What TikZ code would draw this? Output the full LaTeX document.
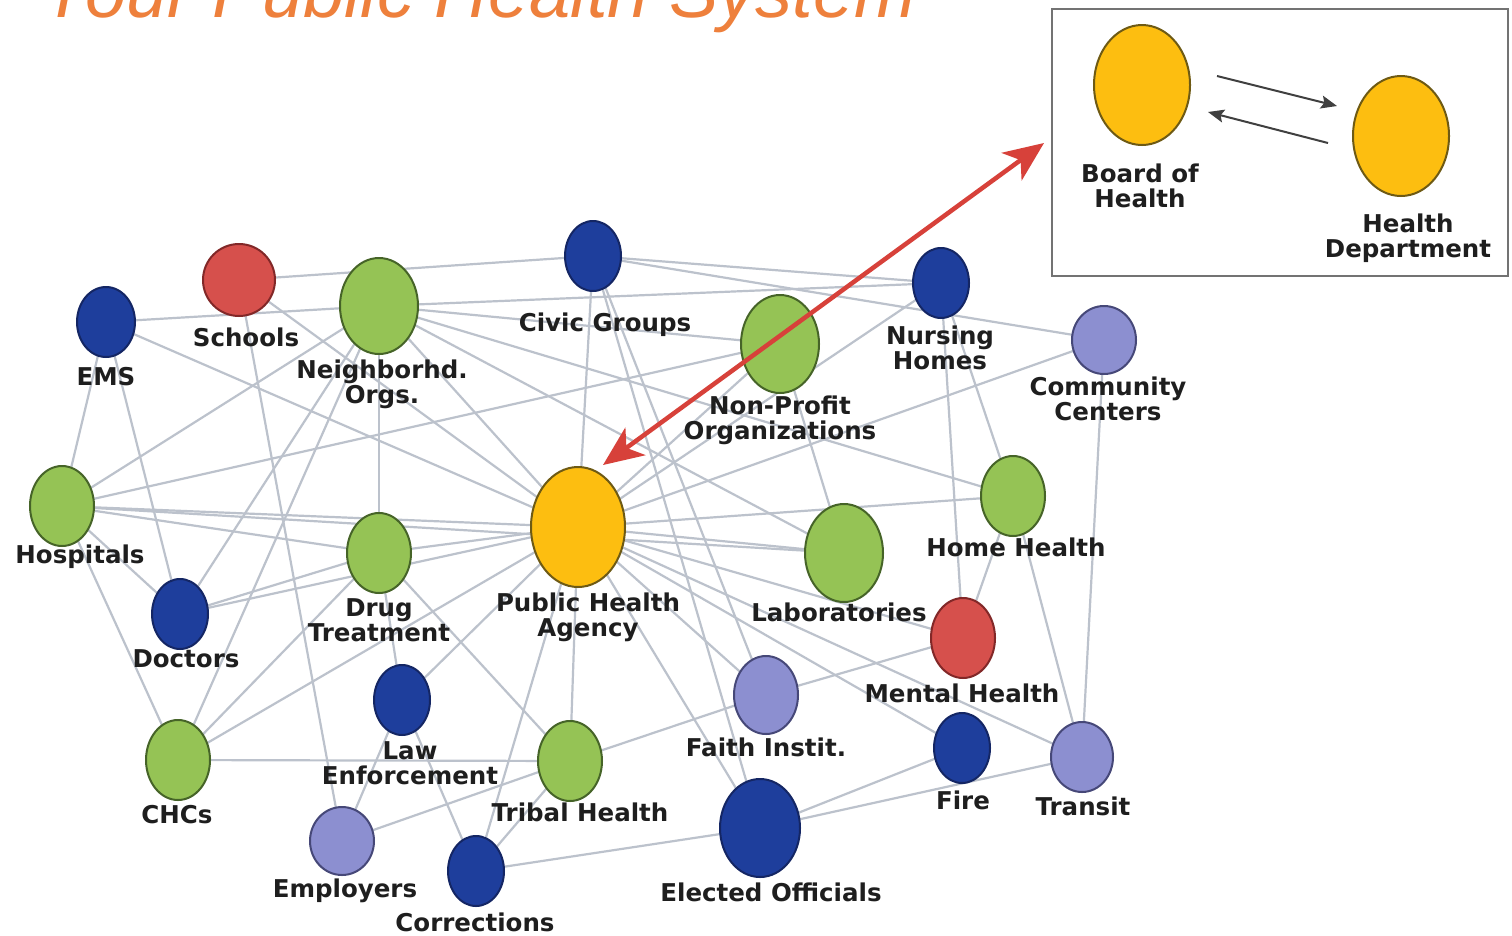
\documentclass[tikz,border=0pt]{standalone}
\usepackage{fontspec}
\setsansfont{DejaVu Sans}
\newfontfamily\titlefont{Liberation Sans}
\usetikzlibrary{arrows.meta,shapes.geometric}
\definecolor{bluefill}{RGB}{30,62,156}
\definecolor{blueline}{RGB}{20,38,100}
\definecolor{greenfill}{RGB}{149,195,85}
\definecolor{greenline}{RGB}{70,100,40}
\definecolor{redfill}{RGB}{214,80,76}
\definecolor{redline}{RGB}{130,40,40}
\definecolor{yellowfill}{RGB}{253,190,16}
\definecolor{yellowline}{RGB}{110,90,20}
\definecolor{lavfill}{RGB}{140,143,208}
\definecolor{lavline}{RGB}{70,72,120}
\definecolor{edgegray}{RGB}{188,194,204}
\definecolor{titleorange}{RGB}{238,128,60}
\definecolor{arrowred}{RGB}{215,65,58}
\definecolor{labeltext}{RGB}{30,30,30}
\tikzset{
  org/.style={ellipse, draw, line width=2pt, inner sep=0pt},
  bl/.style={org, fill=bluefill, draw=blueline},
  gr/.style={org, fill=greenfill, draw=greenline},
  rd/.style={org, fill=redfill, draw=redline},
  yl/.style={org, fill=yellowfill, draw=yellowline},
  lv/.style={org, fill=lavfill, draw=lavline},
  sz/.style 2 args={minimum width=#1pt, minimum height=#2pt},
  lbl/.style={font=\sffamily\bfseries\fontsize{24.5}{25}\selectfont, text=labeltext, align=center, inner sep=0pt},
  link/.style={draw=edgegray, line width=2.2pt},
  boxarrow/.style={draw=black!75, line width=2pt, -{Stealth[length=16pt,width=13pt,inset=3pt]}},
  redarrow/.style={draw=arrowred, line width=4.5pt, {Stealth[length=40pt,width=34pt,inset=11pt]}-{Stealth[length=40pt,width=34pt,inset=11pt]}},
}
\begin{document}
\begin{tikzpicture}[x=1pt,y=-1pt]
\path[use as bounding box] (0,0) rectangle (1512,935);
\fill[white] (0,0) rectangle (1512,935);
\clip (0,0) rectangle (1512,935);

% title (cut off at the top, as in the reference)
\node[anchor=base west, inner sep=0pt, text=titleorange, font=\titlefont\itshape\fontsize{74}{74}\selectfont] (title) at (40,17) {Your Public Health System};

% node centres
\path
 (106,322) coordinate (ems)
 (239,280) coordinate (sch)
 (379,306) coordinate (nbh)
 (593,256) coordinate (civ)
 (780,344) coordinate (npo)
 (941,283) coordinate (nur)
 (1104,340) coordinate (cc)
 (62,506) coordinate (hos)
 (379,553) coordinate (drug)
 (578,527) coordinate (pha)
 (844,553) coordinate (lab)
 (1013,496) coordinate (hh)
 (180,614) coordinate (doc)
 (963,638) coordinate (mh)
 (402,700) coordinate (law)
 (766,695) coordinate (faith)
 (178,760) coordinate (chc)
 (570,761) coordinate (trib)
 (962,748) coordinate (fire)
 (1082,757) coordinate (tran)
 (342,841) coordinate (emp)
 (476,871) coordinate (corr)
 (760,828) coordinate (elec);

% links
\foreach \a/\b in {sch/civ, ems/nbh, ems/pha, ems/hos, ems/doc, sch/emp, sch/pha,
  nbh/hos, nbh/doc, nbh/chc, nbh/drug, nbh/nur, nbh/npo, nbh/pha, nbh/lab, nbh/hh,
  civ/cc, civ/nur, civ/pha, civ/faith, civ/elec,
  hos/npo, hos/pha, hos/lab, hos/drug, hos/chc, hos/doc,
  pha/cc, pha/nur, pha/npo, npo/lab, pha/lab, pha/hh, pha/mh, pha/fire, pha/tran,
  pha/faith, pha/elec, pha/trib, pha/corr, pha/law, pha/chc,
  chc/drug, chc/trib, doc/drug, doc/pha, drug/trib, drug/law, drug/pha,
  law/emp, law/corr, emp/trib, corr/trib, corr/elec, elec/fire, elec/tran,
  trib/faith, faith/mh, mh/hh, mh/nur, nur/hh, hh/tran, cc/tran}
  \draw[link] (\a) -- (\b);

% ellipses
\node[bl, sz={58}{70}] (nEMS) at (ems) {};
\node[rd, sz={72}{72}] (nSch) at (sch) {};
\node[gr, sz={78}{96}] (nNbh) at (nbh) {};
\node[bl, sz={56}{70}] (nCiv) at (civ) {};
\node[gr, sz={78}{98}] (nNpo) at (npo) {};
\node[bl, sz={56}{70}] (nNur) at (nur) {};
\node[lv, sz={64}{68}] (nCC) at (cc) {};
\node[gr, sz={64}{80}] (nHos) at (hos) {};
\node[gr, sz={64}{80}] (nDrug) at (drug) {};
\node[yl, sz={94}{120}] (nPHA) at (pha) {};
\node[gr, sz={78}{98}] (nLab) at (lab) {};
\node[gr, sz={64}{80}] (nHH) at (hh) {};
\node[bl, sz={56}{70}] (nDoc) at (doc) {};
\node[rd, sz={64}{80}] (nMH) at (mh) {};
\node[bl, sz={56}{70}] (nLaw) at (law) {};
\node[lv, sz={64}{78}] (nFaith) at (faith) {};
\node[gr, sz={64}{80}] (nCHC) at (chc) {};
\node[gr, sz={64}{80}] (nTrib) at (trib) {};
\node[bl, sz={56}{70}] (nFire) at (fire) {};
\node[lv, sz={62}{70}] (nTran) at (tran) {};
\node[lv, sz={64}{68}] (nEmp) at (emp) {};
\node[bl, sz={56}{70}] (nCorr) at (corr) {};
\node[bl, sz={80}{98}] (nElec) at (elec) {};

% labels
\node[lbl] (tEMS) at (106,377) {EMS};
\node[lbl] (tSch) at (246,337) {Schools};
\node[lbl] (tNbh) at (382,384) {Neighborhd.\\Orgs.};
\node[lbl] (tCiv) at (605,325) {Civic Groups};
\node[lbl] (tNpo) at (780,420) {Non-Profit\\Organizations};
\node[lbl] (tNur) at (940,348) {Nursing\\Homes};
\node[lbl] (tCC) at (1108,399) {Community\\Centers};
\node[lbl] (tHos) at (80,557) {Hospitals};
\node[lbl] (tDrug) at (379,620) {Drug\\Treatment};
\node[lbl] (tPHA) at (588,617) {Public Health\\Agency};
\node[lbl] (tLab) at (839,612) {Laboratories};
\node[lbl] (tHH) at (1016,547) {Home Health};
\node[lbl] (tDoc) at (186,659) {Doctors};
\node[lbl] (tMH) at (962,693) {Mental Health};
\node[lbl] (tLaw) at (410,763) {Law\\Enforcement};
\node[lbl] (tFaith) at (766,747) {Faith Instit.};
\node[lbl] (tCHC) at (177,815) {CHCs};
\node[lbl] (tTrib) at (580,812) {Tribal Health};
\node[lbl] (tFire) at (963,800) {Fire};
\node[lbl] (tTran) at (1083,806) {Transit};
\node[lbl] (tEmp) at (345,891) {Employers};
\node[lbl] (tCorr) at (475,922) {Corrections};
\node[lbl] (tElec) at (771,892) {Elected Officials};

% inset box
\draw[draw=black!55, line width=2.5pt, fill=white] (1052,9) rectangle (1508,276);
\node[yl, sz={96}{120}] (nBoH) at (1142,85) {};
\node[yl, sz={96}{120}] (nHD) at (1401,136) {};
\node[lbl] (tBoH) at (1140,186) {Board of\\Health};
\node[lbl] (tHD) at (1408,238) {Health\\Department};
\coordinate (a1s) at (1217,76);
\coordinate (a1e) at (1337,106);
\coordinate (a2s) at (1328,143);
\coordinate (a2e) at (1208,112);
\draw[boxarrow] (a1s) -- (a1e);
\draw[boxarrow] (a2s) -- (a2e);

% red double arrow
\coordinate (rA) at (603,465);
\coordinate (rB) at (1044,143);
\draw[redarrow] (rA) -- (rB);
\end{tikzpicture}
\end{document}
